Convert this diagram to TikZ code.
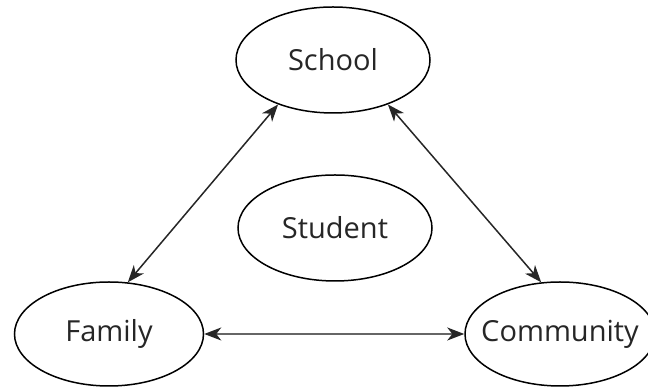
\documentclass[tikz,border=0pt]{standalone}
\usepackage{fontspec}
\setmainfont{Open Sans}
\usepackage{tikz}
\usetikzlibrary{positioning,shapes.geometric,arrows.meta}

\begin{document}
\begin{tikzpicture}[x=1pt,y=1pt,
		vong/.style={ellipse,draw,line width=1.5pt,inner ysep=0pt,inner xsep=-30pt,text=black!85,
			font=\fontsize{29}{32}\selectfont},
		noi/.style={{Stealth[length=17pt,width=13pt,inset=5pt,color=black!85]}-{Stealth[length=17pt,width=13pt,inset=5pt,color=black!85]},line width=1.5pt,black!85}]
	\useasboundingbox (0,0) rectangle (648,387);
	
	% các hình elip
	\node[vong,minimum width=194pt,minimum height=106pt] (school) at (333,327) {School};
	\node[vong,minimum width=194pt,minimum height=106pt] (student) at (335,159) {Student};
	\node[vong,minimum width=189pt,minimum height=104pt] (family) at (109,53) {Family};
	\node[vong,minimum width=190pt,minimum height=104pt] (community) at (560,53) {Community};
	
	% mũi tên hai chiều
	\draw[noi] (family.70) -- (school.219);
	\draw[noi] (school.321) -- (community.110);
	\draw[noi,black!60] (family.east) -- (community.west);
\end{tikzpicture}
\end{document}
